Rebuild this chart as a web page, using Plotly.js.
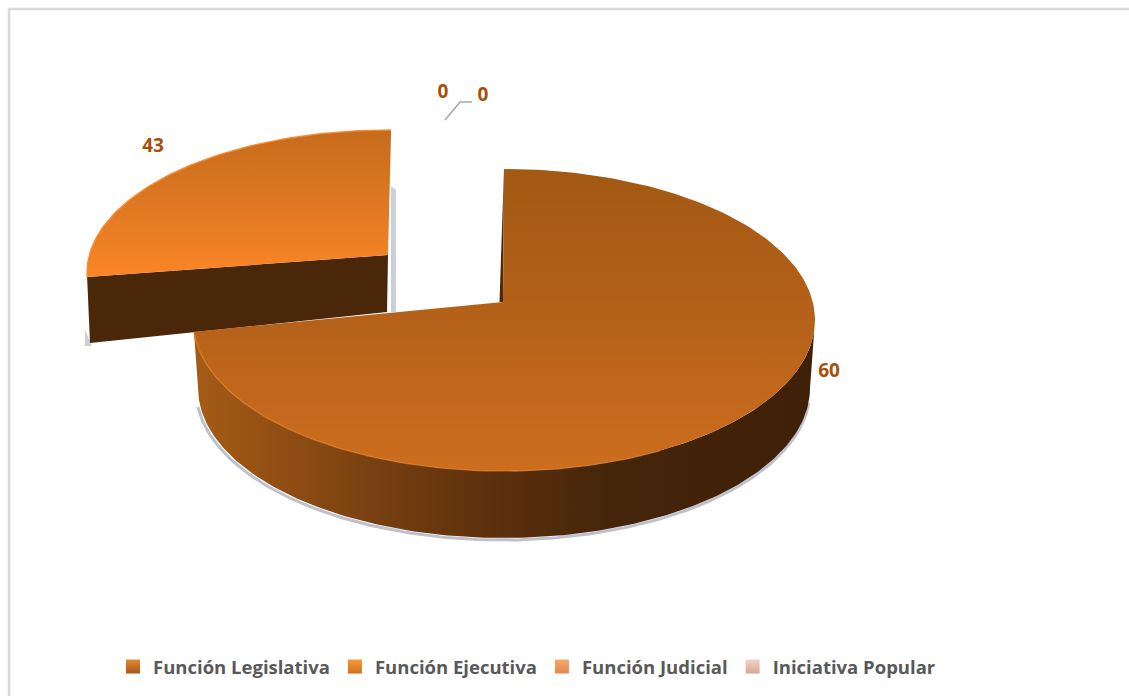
<!DOCTYPE html>
<html><head><meta charset="utf-8">
<script src="https://cdn.plot.ly/plotly-3.0.1.min.js"></script>
<style>html,body{margin:0;padding:0;background:#fff}#c{width:1129px;height:696px}</style></head>
<body><div id="c"></div>
<script>
// ---- data ----
var categories = ['Función Legislativa','Función Ejecutiva','Función Judicial','Iniciativa Popular'];
var values = [60,43,0,0];
// angular extent each slice visibly occupies in the picture (degrees)
var shownSweep = [264,92,0,0];

// ---- styling / geometry ----
var W=1129,H=696;
var legendColors=['#A5591B','#D0701F','#E0894F','#D9A594'];
var legendTops=['#E8862C','#F79A3A','#F7A868','#F2D2C6'];
var labelX=[829,153,443,483], labelY=[372,147,93,96];
var big={top:{cx:504,cy:320,rx:311,ry:151},bot:{cx:504,cy:388,rx:306,ry:150},apex:[503,302],start:1.5};
var small={top:{cx:389,cy:273,rx:302,ry:143},apexTop:[388,255],apexBot:[387,312],outerBot:[90,343]};

function arc(e,a0,a1){var xs=[],ys=[],n=Math.max(2,Math.round(Math.abs(a1-a0)));
  for(var i=0;i<=n;i++){var t=(a0+(a1-a0)*i/n)*Math.PI/180;xs.push(e.cx+e.rx*Math.sin(t));ys.push(e.cy-e.ry*Math.cos(t));}
  return {x:xs,y:ys};}
function poly(x,y,o){return Object.assign({x:x,y:y,mode:'lines',fill:'toself',line:{width:0},hoverinfo:'skip',showlegend:false},o);}
function grad(type,stops){var c=[];stops.forEach(function(s){c.push([s[0],s[1]]);});return {type:type,colorscale:c};}

var traces=[];
var bigEnd=big.start+shownSweep[0];
var smallStart=0.4, smallEnd=smallStart-shownSweep[1];

// small slice (Ejecutiva)
var sa=arc(small.top,smallStart,smallEnd);
var sOuterEnd=[sa.x[sa.x.length-1],sa.y[sa.y.length-1]];
// soft shadows
traces.push(poly([391,396,396,391],[186,190,312,312],{fillcolor:'rgba(110,115,140,0.35)'}));
traces.push(poly([85,91,91,85],[330,343,346,346],{fillcolor:'rgba(110,115,140,0.35)'}));
traces.push(poly([sOuterEnd[0],small.apexTop[0],small.apexBot[0],small.outerBot[0]],
                 [sOuterEnd[1],small.apexTop[1],small.apexBot[1],small.outerBot[1]],{fillcolor:'#4A2708'}));
traces.push(poly(sa.x.concat([small.apexTop[0]]),sa.y.concat([small.apexTop[1]]),
  {fillcolor:'#E07A22',fillgradient:grad('vertical',[[0,'#FA8626'],[0.55,'#DC7721'],[1,'#C66B1D']])}));
traces.push({x:sa.x,y:sa.y,mode:'lines',line:{color:'rgba(250,135,40,0.9)',width:1.5},hoverinfo:'skip',showlegend:false});

// big slice (Legislativa)
var bb=arc(big.bot,90,bigEnd), bt=arc(big.top,90,bigEnd);
var bs=arc({cx:big.bot.cx-1,cy:big.bot.cy+2,rx:big.bot.rx+1,ry:big.bot.ry},95,bigEnd-2);
traces.push({x:bs.x,y:bs.y,mode:'lines',line:{color:'rgba(110,115,140,0.45)',width:3},hoverinfo:'skip',showlegend:false});
traces.push(poly(bt.x.concat(bb.x.slice().reverse()),bt.y.concat(bb.y.slice().reverse()),
  {fillcolor:'#5A2F0C',fillgradient:grad('horizontal',[[0,'#A55C15'],[0.17,'#8C4B12'],[0.33,'#713C10'],[0.5,'#5A2F0C'],[0.67,'#45250A'],[1,'#3E2008']])}));
// inner wall of big slice at the start edge
var ta=arc(big.top,big.start-1.5,bigEnd);
traces.push(poly([ta.x[0],big.apex[0],big.apex[0]-3.5],[ta.y[0],big.apex[1],big.apex[1]],{fillcolor:'#4F2A09'}));
traces.push(poly(ta.x.concat([big.apex[0]]),ta.y.concat([big.apex[1]]),
  {fillcolor:'#B5611A',fillgradient:grad('vertical',[[0,'#CD6E1E'],[0.5,'#B5611A'],[1,'#A25913]'.replace(']','')]])}));
var hi=arc(big.top,150,bigEnd);
traces.push({x:hi.x,y:hi.y,mode:'lines',line:{color:'rgba(214,122,40,0.8)',width:1.5},hoverinfo:'skip',showlegend:false});

// leader line for the zero labels
traces.push({x:[445,460,472],y:[120,102,102],mode:'lines',line:{color:'#A6A6A6',width:1.5},hoverinfo:'skip',showlegend:false});

// data labels
traces.push({x:labelX,y:labelY,text:values.map(String),mode:'text',textposition:'middle center',
  textfont:{family:'"Open Sans",sans-serif',size:19,color:'#A5500A',weight:700},hoverinfo:'skip',showlegend:false});

// legend entries
categories.forEach(function(c,i){
  traces.push({x:[null],y:[null],name:c,mode:'markers',hoverinfo:'skip',
    marker:{symbol:'square',size:14,color:legendTops[i],gradient:{type:'vertical',color:legendColors[i]},line:{width:0}}});
});

var layout={width:W,height:H,margin:{l:0,r:0,t:0,b:0},paper_bgcolor:'#fff',plot_bgcolor:'#fff',
  xaxis:{range:[0,W],visible:false,fixedrange:true},
  yaxis:{range:[H,0],visible:false,fixedrange:true},
  shapes:[{type:'rect',xref:'paper',yref:'paper',x0:9/W,x1:1.02,y0:-0.02,y1:1-9/H,line:{color:'#D9D9D9',width:2.5},layer:'below'}],
  legend:{orientation:'h',xref:'paper',yref:'paper',x:113/W,y:1-648/H,xanchor:'left',yanchor:'top',
    itemclick:false,itemdoubleclick:false,bgcolor:'rgba(0,0,0,0)',
    font:{family:'"Open Sans",sans-serif',size:18.5,color:'#595959',weight:700}},
  showlegend:true};
Plotly.newPlot('c',traces,layout,{displayModeBar:false,staticPlot:true});
</script></body></html>
